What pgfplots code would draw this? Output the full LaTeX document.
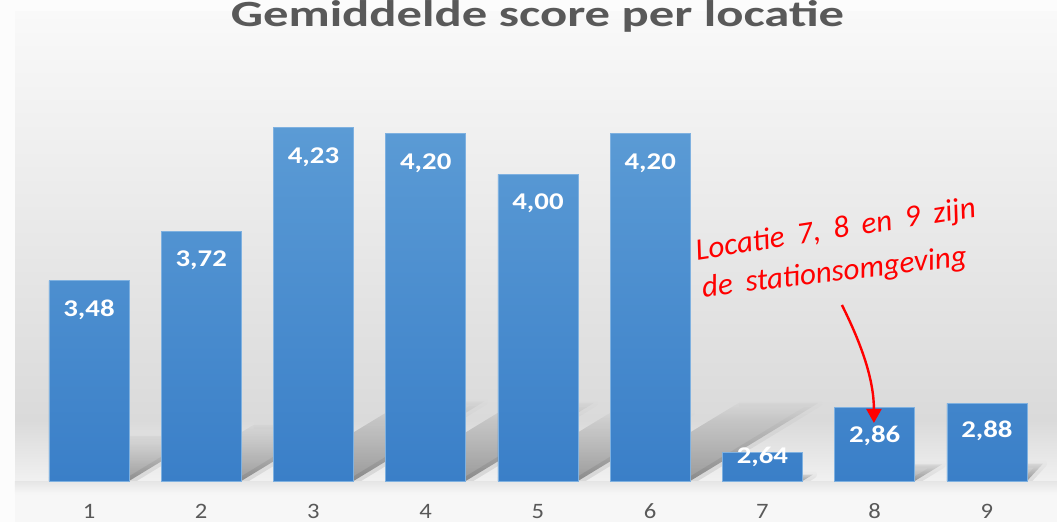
\documentclass[border=0pt]{standalone}
\usepackage{pgfplots}
\pgfplotsset{compat=1.18}
\usepackage{pgfplotstable}
\usepackage{fontspec}
\setmainfont{Carlito}
\usetikzlibrary{arrows.meta,fadings}
\definecolor{titlegray}{HTML}{595959}
\definecolor{barTop}{HTML}{5B9BD5}
\definecolor{barBot}{HTML}{3A7FC8}
\definecolor{barEdge}{HTML}{7FB1E0}
\definecolor{bgA}{HTML}{F9F9F9}
\definecolor{bgB}{HTML}{EBEBEB}
\definecolor{bgC}{HTML}{DADADA}
\definecolor{bgD}{HTML}{F6F6F6}
\definecolor{bgE}{HTML}{F7F7F7}
\definecolor{bgO}{HTML}{FCFCFC}
\tikzfading[name=shadowfade, bottom color=transparent!0, middle color=transparent!12, top color=transparent!100]

\pgfplotstableread{
x y off lab
1 3.48 -29 3,48
2 3.72 -29 3,72
3 4.23 -30 4,23
4 4.20 -30 4,20
5 4.00 -29 4,00
6 4.20 -30 4,20
7 2.64 -5 2,64
8 2.86 -28 2,86
9 2.88 -28 2,88
}\bars

\begin{document}
\begin{tikzpicture}[x=1pt,y=1pt]
\clip (0,0) rectangle (1057,522);
\fill[bgO] (0,0) rectangle (1057,522);
\fill[top color=bgA, bottom color=bgB] (15,321.5) rectangle (1057,510);
\fill[top color=bgB, bottom color=bgC] (15,101.5) rectangle (1057,322);
\fill[top color=bgC, bottom color=bgD] (15,27) rectangle (1057,102);
\fill[bgE] (15,0) rectangle (1057,27.5);

\node[anchor=base, font=\fontsize{37}{37}\selectfont\bfseries, text=titlegray, xscale=1.37, inner sep=0pt] at (537.5,495.5) {Gemiddelde score per locatie};

\begin{axis}[
  at={(32.875pt,41pt)}, anchor=south west,
  scale only axis, width=1010.25pt, height=408.8pt,
  xmin=0.5, xmax=9.5, ymin=0, ymax=2,
  axis x line*=bottom, axis y line=none,
  x axis line style={draw=none},
  xtick={1,2,3,4,5,6,7,8,9},
  xticklabels={1,2,3,4,5,6,7,8,9},
  ytick=\empty,
  major tick length=0pt,
  xticklabel style={anchor=base, yshift=-37pt, text=titlegray,
    font=\fontsize{22}{22}\selectfont, xscale=1.12},
  clip=false,
  shadow/.style={draw=black, draw opacity=0.1, line width=8pt, line join=round,
    fill=black, fill opacity=0.38, path fading=shadowfade, forget plot},
]
% perspective shadows of the bars (heights measured from the 2.5 baseline)
\addplot[shadow] coordinates {(0.6436,0) (1.3564,0) (2.017,0.2205) (1.304,0.2205)};
\addplot[shadow] coordinates {(1.6436,0) (2.3564,0) (3.178,0.2745) (2.466,0.2745)};
\addplot[shadow] coordinates {(2.6436,0) (3.3564,0) (4.522,0.389) (3.810,0.389)};
\addplot[shadow] coordinates {(3.6436,0) (4.3564,0) (5.502,0.3825) (4.790,0.3825)};
\addplot[shadow] coordinates {(4.6436,0) (5.3564,0) (6.367,0.3375) (5.655,0.3375)};
\addplot[shadow] coordinates {(5.6436,0) (6.3564,0) (7.502,0.3825) (6.790,0.3825)};
\addplot[shadow] coordinates {(6.6436,0) (7.3564,0) (7.450,0.0315) (6.738,0.0315)};
\addplot[shadow] coordinates {(7.6436,0) (8.3564,0) (8.599,0.081) (7.887,0.081)};
\addplot[shadow] coordinates {(8.6436,0) (9.3564,0) (9.5,0.0855) (8.900,0.0855)};
% cover the shadow strokes below the baseline
\fill[top color=bgC!60!bgD, bottom color=bgD] ([xshift=-18pt]axis cs:0.5,0) rectangle ([xshift=14pt,yshift=-12pt]axis cs:9.5,0);

\addplot[ybar, bar width=80pt, draw=barEdge, line width=0.6pt,
  top color=barTop, bottom color=barBot,
  nodes near coords, point meta=explicit symbolic,
  visualization depends on={\thisrow{off} \as \laboff},
  every node near coord/.append style={anchor=center, yshift=\laboff pt,
    text=white, font=\fontsize{24}{24}\selectfont\bfseries, xscale=1.2}]
  table[x=x, y expr=\thisrow{y}-2.5, meta=lab] {\bars};

\draw[red, line width=2.4pt, -{Triangle[width=15pt,length=14pt]}]
  (axis cs:7.708,0.861) .. controls (axis cs:7.886,0.665) and (axis cs:7.993,0.494) .. (axis cs:7.993,0.284);
\node[anchor=base west, rotate=8.8, text=red, inner sep=0pt,
  font=\fontsize{31}{31}\selectfont\itshape] at (axis cs:6.416,1.081) {Locatie\hspace{6pt} 7,\hspace{6pt} 8\hspace{6pt} en\hspace{6pt} 9\hspace{6pt} zijn};
\node[anchor=base west, rotate=6.8, text=red, inner sep=0pt,
  font=\fontsize{31}{31}\selectfont\itshape] at (axis cs:6.470,0.900) {de\hspace{6pt} stationsomgeving};
\end{axis}
\end{tikzpicture}
\end{document}
